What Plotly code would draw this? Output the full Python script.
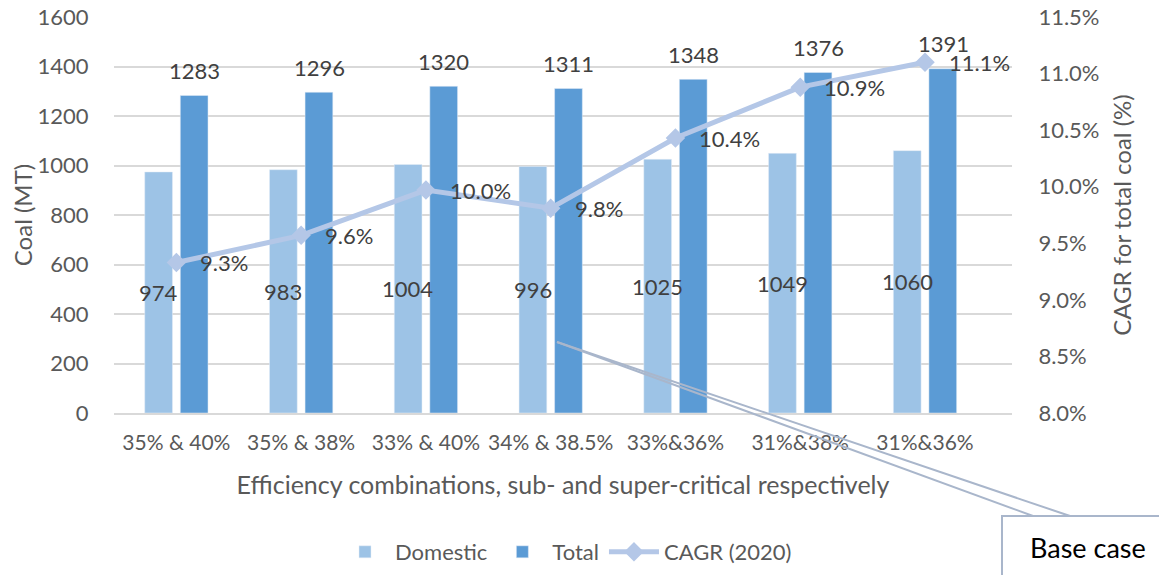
import plotly.graph_objects as go

categories = ["35% & 40%", "35% & 38%", "33% & 40%", "34% & 38.5%", "33%&36%", "31%&38%", "31%&36%"]
domestic = [974, 983, 1004, 996, 1025, 1049, 1060]
total = [1283, 1296, 1320, 1311, 1348, 1376, 1391]
cagr = [9.33, 9.57, 9.97, 9.81, 10.43, 10.88, 11.10]
cagr_labels = ["9.3%", "9.6%", "10.0%", "9.8%", "10.4%", "10.9%", "11.1%"]

FONT = "Lato"
FS = 22
OFF = 8  # page body margin
W, H = 1167 - OFF, 575 - OFF
# plot area in page pixels: x 114..1012, y 17..413
ML, MT = 114 - OFF, 17 - OFF
MR, MB = 1167 - 1012, 575 - 413
PW = W - ML - MR
PH = H - MT - MB


def px(xp):
    return (xp - OFF - ML) / PW


def py(yp):
    return (OFF + MT + PH - yp) / PH


fig = go.Figure()
fig.add_trace(go.Bar(
    x=categories, y=domestic, name="Domestic", marker_color="#9DC3E6",
))
fig.add_trace(go.Bar(
    x=categories, y=total, name="Total", marker_color="#5B9BD5",
))
fig.add_trace(go.Scatter(
    x=categories, y=cagr, name="CAGR (2020)", yaxis="y2", mode="lines+markers",
    line=dict(color="#B4C7E7", width=5),
    marker=dict(symbol="diamond", size=15, color="#B4C7E7"),
))

lab_font = dict(family=FONT, size=FS, color="#404040")
annotations = []
for c, v in zip(categories, domestic):
    annotations.append(dict(x=c, y=v / 2, xref="x", yref="y", text=str(v), showarrow=False,
                            xshift=-18, yanchor="middle", font=lab_font))
for c, v in zip(categories, total):
    annotations.append(dict(x=c, y=v, xref="x", yref="y", text=str(v), showarrow=False,
                            xshift=18, yshift=25, yanchor="middle", font=lab_font))
for c, v, t in zip(categories, cagr, cagr_labels):
    annotations.append(dict(x=c, y=v, xref="x", yref="y2", text=t, showarrow=False,
                            xshift=22, xanchor="left", yanchor="middle", font=lab_font))
annotations.append(dict(x=px(1028), y=py(547), xref="paper", yref="paper", text="Base case",
                        showarrow=False, xanchor="left", yanchor="middle",
                        font=dict(family=FONT, size=27, color="#000000")))

callout = "#A9B6CB"
shapes = [
    dict(type="line", xref="paper", yref="paper", x0=px(557), y0=py(342), x1=px(1070), y1=py(516),
         line=dict(color=callout, width=2)),
    dict(type="line", xref="paper", yref="paper", x0=px(557), y0=py(342), x1=px(1033), y1=py(516),
         line=dict(color=callout, width=2)),
    dict(type="rect", xref="paper", yref="paper", x0=px(1002), y0=py(516), x1=px(1190), y1=py(600),
         line=dict(color=callout, width=2), fillcolor="white"),
]

tick_font = dict(family=FONT, size=FS, color="#595959")
fig.update_layout(
    width=W, height=H,
    margin=dict(l=ML, r=MR, t=MT, b=MB, autoexpand=False),
    paper_bgcolor="white", plot_bgcolor="white",
    barmode="group", bargap=0.43, bargroupgap=0.22,
    font=dict(family=FONT, size=FS, color="#595959"),
    xaxis=dict(
        showgrid=False, showline=True, linecolor="#D9D9D9", linewidth=1.5,
        ticks="outside", ticklen=10, tickcolor="rgba(0,0,0,0)", tickangle=0,
        tickfont=dict(family=FONT, size=21, color="#595959"),
        title=dict(text="Efficiency combinations, sub- and super-critical respectively",
                   font=dict(family=FONT, size=25, color="#595959"), standoff=24),
    ),
    yaxis=dict(
        range=[0, 1600], dtick=200, showgrid=True, gridcolor="#D9D9D9", gridwidth=1.5,
        zeroline=False, showline=False, ticklabeloverflow="allow",
        ticks="outside", ticklen=20, tickcolor="rgba(0,0,0,0)",
        tickfont=tick_font,
        title=dict(text="Coal (MT)", font=dict(family=FONT, size=24, color="#595959"), standoff=8),
    ),
    yaxis2=dict(
        range=[8.0, 11.5], dtick=0.5, tickformat=".1f", ticksuffix="%",
        overlaying="y", side="right", showgrid=False, zeroline=False, showline=False,
        ticklabeloverflow="allow",
        ticks="outside", ticklen=21, tickcolor="rgba(0,0,0,0)",
        tickfont=tick_font,
        title=dict(text="CAGR for total coal (%)", font=dict(family=FONT, size=24, color="#595959"),
                   standoff=15),
    ),
    legend=dict(orientation="h", x=px(566), xanchor="center", y=py(552), yanchor="middle",
                font=dict(family=FONT, size=22, color="#595959"), itemwidth=50,
                traceorder="normal"),
    annotations=annotations,
    shapes=shapes,
)

fig.write_html("out.html")
